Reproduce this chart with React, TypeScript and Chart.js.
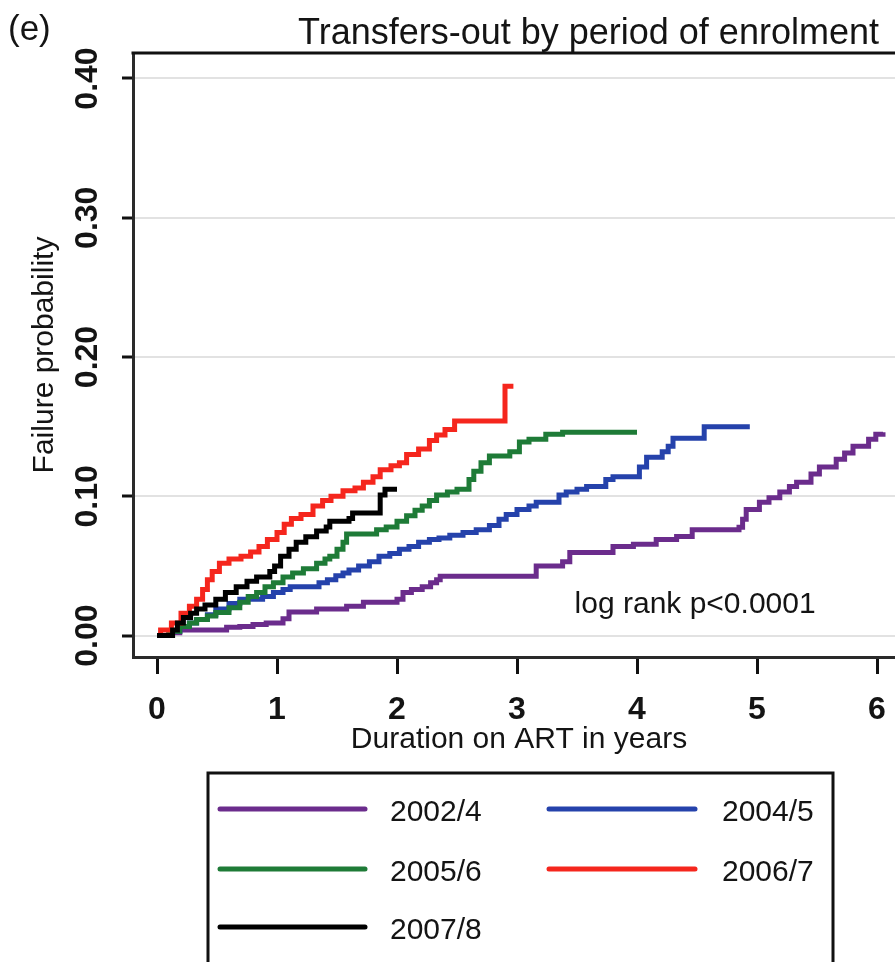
import React, { useEffect, useRef } from "react";
import { Chart, registerables } from "chart.js";

Chart.register(...registerables);

// ---------- text ----------
const panelLabel = "(e)";
const chartTitle = "Transfers-out by period of enrolment";
const xAxisTitle = "Duration on ART in years";
const yAxisTitle = "Failure probability";
const annotationText = "log rank p<0.0001";
const annotationX = 3.48;
const annotationY = 0.0162;

// ---------- ticks ----------
const xTicks = [0, 1, 2, 3, 4, 5, 6];
const yTicks = [0, 0.1, 0.2, 0.3, 0.4];
const yTickLabels = ["0.00", "0.10", "0.20", "0.30", "0.40"];

// ---------- series ----------
const seriesLabels = ["2002/4", "2004/5", "2005/6", "2006/7", "2007/8"];
const seriesColors = ["#6b2c8c", "#2542ab", "#1e7b37", "#f5261d", "#000000"];

// 2002/4
const t0204 = [0, 0.1, 0.19, 0.58, 0.69, 0.8, 0.91, 1.05, 1.1, 1.33, 1.58, 1.72, 2.0, 2.05, 2.12, 2.21, 2.28, 2.33, 2.36, 3.16, 3.38, 3.44, 3.8, 3.97, 4.16, 4.33, 4.46, 4.85, 4.88, 4.91, 5.02, 5.1, 5.19, 5.27, 5.33, 5.45, 5.52, 5.66, 5.73, 5.8, 5.93, 5.99, 6.05];
const v0204 = [0, 0.002, 0.004, 0.006, 0.0065, 0.008, 0.009, 0.012, 0.017, 0.019, 0.021, 0.024, 0.026, 0.031, 0.033, 0.035, 0.038, 0.04, 0.0425, 0.05, 0.053, 0.0597, 0.064, 0.0655, 0.069, 0.0712, 0.076, 0.0777, 0.0835, 0.0906, 0.0957, 0.099, 0.103, 0.107, 0.11, 0.116, 0.121, 0.1266, 0.131, 0.136, 0.141, 0.1446, 0.146];

// 2004/5
const t0405 = [0, 0.1, 0.19, 0.27, 0.33, 0.42, 0.49, 0.6, 0.69, 0.88, 0.97, 1.05, 1.11, 1.35, 1.42, 1.49, 1.55, 1.6, 1.68, 1.77, 1.85, 1.94, 2.02, 2.1, 2.18, 2.27, 2.35, 2.44, 2.55, 2.66, 2.77, 2.85, 2.91, 3.0, 3.1, 3.16, 3.35, 3.41, 3.5, 3.58, 3.74, 3.8, 4.02, 4.08, 4.21, 4.26, 4.3, 4.35, 4.56, 4.94];
const v0405 = [0, 0.003, 0.0065, 0.009, 0.0115, 0.015, 0.019, 0.023, 0.026, 0.028, 0.031, 0.033, 0.035, 0.038, 0.04, 0.043, 0.045, 0.047, 0.05, 0.053, 0.057, 0.059, 0.062, 0.064, 0.067, 0.069, 0.07, 0.072, 0.074, 0.076, 0.079, 0.0835, 0.087, 0.0906, 0.093, 0.0957, 0.101, 0.103, 0.105, 0.107, 0.112, 0.114, 0.121, 0.128, 0.132, 0.136, 0.1417, 0.1417, 0.15, 0.15];

// 2005/6
const t0506 = [0, 0.1, 0.19, 0.27, 0.33, 0.42, 0.49, 0.6, 0.69, 0.76, 0.83, 0.9, 0.97, 1.05, 1.13, 1.22, 1.33, 1.4, 1.44, 1.5, 1.55, 1.58, 1.83, 1.91, 2.0, 2.08, 2.15, 2.21, 2.27, 2.33, 2.42, 2.5, 2.6, 2.64, 2.7, 2.77, 2.94, 3.02, 3.1, 3.24, 3.38, 4.0];
const v0506 = [0, 0.003, 0.0065, 0.009, 0.0115, 0.014, 0.0165, 0.02, 0.024, 0.028, 0.031, 0.035, 0.038, 0.042, 0.045, 0.048, 0.052, 0.055, 0.057, 0.062, 0.067, 0.073, 0.076, 0.078, 0.082, 0.086, 0.09, 0.093, 0.097, 0.101, 0.103, 0.105, 0.112, 0.118, 0.124, 0.129, 0.132, 0.139, 0.141, 0.1446, 0.146, 0.146];

// 2006/7
const t0607 = [0, 0.03, 0.12, 0.2, 0.27, 0.33, 0.38, 0.42, 0.46, 0.52, 0.6, 0.7, 0.78, 0.85, 0.92, 1.0, 1.06, 1.12, 1.2, 1.3, 1.38, 1.45, 1.55, 1.65, 1.72, 1.8, 1.86, 1.95, 2.02, 2.08, 2.18, 2.27, 2.33, 2.4, 2.48, 2.9, 2.97];
const v0607 = [0, 0.004, 0.009, 0.016, 0.021, 0.026, 0.033, 0.04, 0.046, 0.052, 0.055, 0.057, 0.06, 0.064, 0.069, 0.074, 0.08, 0.084, 0.087, 0.093, 0.097, 0.1, 0.104, 0.106, 0.11, 0.114, 0.119, 0.122, 0.124, 0.13, 0.134, 0.14, 0.144, 0.148, 0.154, 0.179, 0.179];

// 2007/8
const t0708 = [0, 0.13, 0.17, 0.22, 0.28, 0.33, 0.4, 0.49, 0.57, 0.66, 0.75, 0.83, 0.94, 0.98, 1.03, 1.1, 1.16, 1.24, 1.33, 1.41, 1.44, 1.6, 1.63, 1.86, 1.9, 2.0];
const v0708 = [0, 0.004, 0.009, 0.013, 0.016, 0.019, 0.022, 0.026, 0.031, 0.035, 0.039, 0.042, 0.046, 0.05, 0.057, 0.062, 0.067, 0.071, 0.075, 0.078, 0.082, 0.084, 0.088, 0.101, 0.105, 0.105];

const seriesT = [t0204, t0405, t0506, t0607, t0708];
const seriesV = [v0204, v0405, v0506, v0607, v0708];
const drawOrder = [4, 3, 2, 1, 0];

const FONT = "'Liberation Sans', Arial, Helvetica, sans-serif";
const TEXT = "#141414";

const decorPlugin = {
  id: "decor",
  afterDraw(chart: any) {
    const { ctx, chartArea } = chart;
    const xs = chart.scales.x;
    const ys = chart.scales.y;
    ctx.save();

    // top frame line
    ctx.strokeStyle = "#111";
    ctx.lineWidth = 3;
    ctx.beginPath();
    ctx.moveTo(chartArea.left - 1.5, chartArea.top);
    ctx.lineTo(chartArea.right, chartArea.top);
    ctx.stroke();

    ctx.fillStyle = TEXT;

    // panel label
    ctx.font = `35px ${FONT}`;
    ctx.textAlign = "left";
    ctx.textBaseline = "alphabetic";
    ctx.fillText(panelLabel, 8, 40);

    // title
    ctx.font = `36px ${FONT}`;
    ctx.textAlign = "left";
    ctx.fillText(chartTitle, 298, 44);

    // y tick labels (rotated)
    ctx.font = `bold 32px ${FONT}`;
    yTicks.forEach((v, i) => {
      ctx.save();
      ctx.translate(97, ys.getPixelForValue(v));
      ctx.rotate(-Math.PI / 2);
      ctx.textAlign = "center";
      ctx.textBaseline = "alphabetic";
      ctx.fillText(yTickLabels[i], 0, 0);
      ctx.restore();
    });

    // y axis title
    ctx.font = `30px ${FONT}`;
    ctx.save();
    ctx.translate(53, (chartArea.top + chartArea.bottom) / 2);
    ctx.rotate(-Math.PI / 2);
    ctx.textAlign = "center";
    ctx.textBaseline = "alphabetic";
    ctx.fillText(yAxisTitle, 0, 0);
    ctx.restore();

    // x tick labels
    ctx.font = `bold 32px ${FONT}`;
    ctx.textAlign = "center";
    ctx.textBaseline = "alphabetic";
    xTicks.forEach((v) => {
      ctx.fillText(String(v), xs.getPixelForValue(v), 719);
    });

    // x axis title
    ctx.font = `30px ${FONT}`;
    ctx.fillText(xAxisTitle, xs.getPixelForValue(3) + 2, 748);

    // annotation
    ctx.textAlign = "left";
    ctx.fillText(annotationText, xs.getPixelForValue(annotationX), ys.getPixelForValue(annotationY));

    // legend
    const boxL = 208, boxT = 773, boxR = 833;
    ctx.strokeStyle = "#111";
    ctx.lineWidth = 3;
    ctx.strokeRect(boxL, boxT, boxR - boxL, 260);
    const colLine = [[220, 365], [549, 695]];
    const colText = [390, 722];
    const rowY = [809, 869, 927];
    seriesLabels.forEach((lab, i) => {
      const col = i % 2;
      const row = Math.floor(i / 2);
      const yy = rowY[row];
      ctx.strokeStyle = seriesColors[i];
      ctx.lineWidth = 5;
      ctx.lineCap = "round";
      ctx.beginPath();
      ctx.moveTo(colLine[col][0], yy);
      ctx.lineTo(colLine[col][1], yy);
      ctx.stroke();
      ctx.fillStyle = TEXT;
      ctx.font = `30px ${FONT}`;
      ctx.textAlign = "left";
      ctx.textBaseline = "alphabetic";
      ctx.fillText(lab, colText[col], yy + 12);
    });

    ctx.restore();
  },
};

export default function App() {
  const ref = useRef<HTMLCanvasElement>(null);

  useEffect(() => {
    if (!ref.current) return;
    const datasets = seriesLabels.map((lab, i) => ({
      label: lab,
      data: seriesT[i].map((t, j) => ({ x: t, y: seriesV[i][j] })),
      borderColor: seriesColors[i],
      backgroundColor: seriesColors[i],
      borderWidth: 5,
      pointRadius: 0,
      stepped: "before" as const,
      fill: false,
      order: drawOrder[i],
    }));

    const chart = new Chart(ref.current, {
      type: "line",
      data: { datasets },
      options: {
        animation: false,
        responsive: false,
        devicePixelRatio: 1,
        layout: { padding: { top: 53, left: 0, right: 0, bottom: 0 } },
        plugins: {
          legend: { display: false },
          title: { display: false },
          tooltip: { enabled: false },
        },
        scales: {
          x: {
            type: "linear",
            min: -0.2,
            max: 6.15,
            afterBuildTicks: (s: any) => {
              s.ticks = xTicks.map((v) => ({ value: v }));
            },
            afterFit: (s: any) => {
              s.height = 305;
            },
            grid: {
              display: true,
              drawOnChartArea: false,
              drawTicks: true,
              tickLength: 17,
              tickColor: "#111",
              tickWidth: 3,
            },
            border: { display: true, color: "#2a2a2a", width: 3 },
            ticks: { display: false },
          },
          y: {
            type: "linear",
            min: -0.0154,
            max: 0.4183,
            afterBuildTicks: (s: any) => {
              s.ticks = yTicks.map((v) => ({ value: v }));
            },
            afterFit: (s: any) => {
              s.width = 133;
            },
            grid: {
              display: true,
              color: "#e2e2e2",
              lineWidth: 2,
              drawTicks: true,
              tickLength: 11,
              tickColor: "#111",
              tickWidth: 3,
            },
            border: { display: true, color: "#2a2a2a", width: 3 },
            ticks: { display: false },
          },
        },
      },
      plugins: [decorPlugin],
    });
    return () => chart.destroy();
  }, []);

  return (
    <div style={{ position: "absolute", left: 0, top: 0, width: 895, height: 962, background: "#fff", overflow: "hidden" }}>
      <canvas ref={ref} width={895} height={962} style={{ display: "block", width: 895, height: 962 }} />
    </div>
  );
}
